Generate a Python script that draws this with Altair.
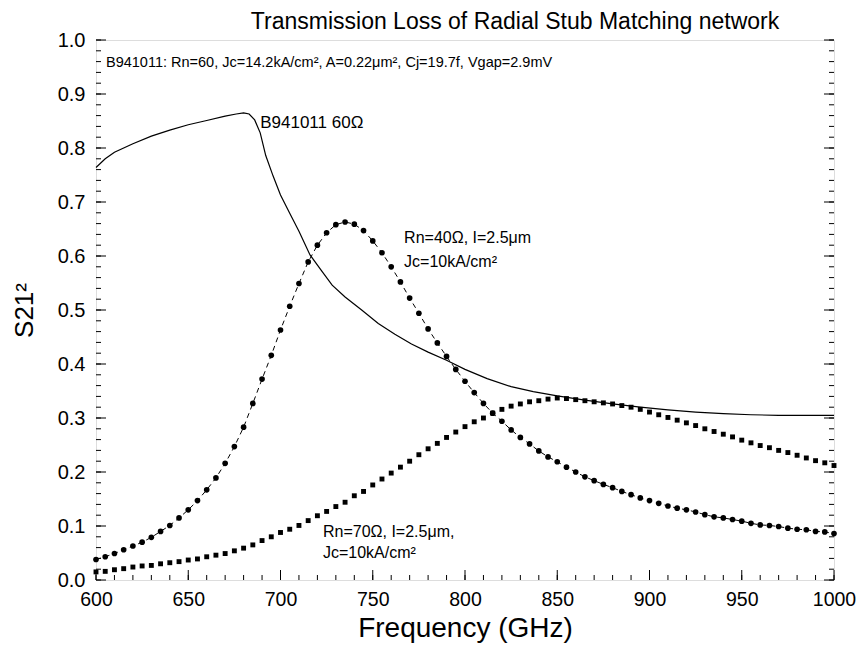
import altair as alt
import pandas as pd

# ---------------- data ----------------
# solid curve: B941011 60 ohm
line_freq = [600, 605, 610, 620, 630, 640, 650, 660, 670, 676, 680, 683, 686, 689,
             692, 696, 700, 705, 710, 716, 722, 728, 735, 744, 753, 762, 771, 780,
             790, 800, 812, 825, 837, 850, 865, 880, 895, 910, 925, 940, 955, 970,
             985, 1000]
line_s21 = [0.764, 0.780, 0.792, 0.808, 0.822, 0.833, 0.843, 0.851, 0.859, 0.863,
            0.865, 0.863, 0.852, 0.828, 0.786, 0.748, 0.713, 0.679, 0.646, 0.602,
            0.574, 0.546, 0.524, 0.500, 0.475, 0.455, 0.437, 0.422, 0.407, 0.390,
            0.373, 0.358, 0.349, 0.341, 0.333, 0.326, 0.320, 0.315, 0.311, 0.308,
            0.306, 0.305, 0.305, 0.305]

# sampled curves (every 5 GHz)
pts_freq = list(range(600, 1001, 5))
rn40_s21 = [0.038, 0.043, 0.049, 0.056, 0.063, 0.070, 0.079, 0.090, 0.101, 0.115,
            0.130, 0.147, 0.167, 0.189, 0.216, 0.247, 0.283, 0.327, 0.372, 0.416,
            0.463, 0.507, 0.549, 0.589, 0.620, 0.643, 0.658, 0.663, 0.659, 0.647,
            0.628, 0.606, 0.580, 0.552, 0.522, 0.494, 0.465, 0.439, 0.414, 0.390,
            0.368, 0.347, 0.327, 0.309, 0.294, 0.278, 0.264, 0.252, 0.239, 0.228,
            0.219, 0.209, 0.200, 0.191, 0.184, 0.177, 0.171, 0.164, 0.158, 0.152,
            0.147, 0.142, 0.137, 0.133, 0.130, 0.126, 0.121, 0.117, 0.115, 0.112,
            0.109, 0.105, 0.102, 0.101, 0.099, 0.096, 0.094, 0.093, 0.090, 0.089,
            0.086]
rn70_s21 = [0.015, 0.016, 0.019, 0.021, 0.024, 0.026, 0.027, 0.030, 0.032, 0.034,
            0.037, 0.039, 0.043, 0.046, 0.049, 0.054, 0.059, 0.065, 0.073, 0.080,
            0.088, 0.094, 0.101, 0.110, 0.119, 0.127, 0.136, 0.144, 0.156, 0.164,
            0.176, 0.187, 0.198, 0.209, 0.220, 0.232, 0.243, 0.253, 0.264, 0.274,
            0.284, 0.293, 0.300, 0.309, 0.316, 0.322, 0.326, 0.330, 0.332, 0.335,
            0.337, 0.336, 0.334, 0.332, 0.330, 0.328, 0.326, 0.323, 0.320, 0.316,
            0.311, 0.306, 0.301, 0.296, 0.291, 0.286, 0.280, 0.275, 0.270, 0.265,
            0.259, 0.254, 0.249, 0.245, 0.240, 0.236, 0.231, 0.226, 0.221, 0.217,
            0.212]

# annotations (anchor in data coordinates)
note_text = ["B941011: Rn=60, Jc=14.2kA/cm², A=0.22μm², Cj=19.7f, Vgap=2.9mV"]
note_x = [605.4]
note_y = [0.958]
name_text = ["B941011 60Ω"]
name_x = [689]
name_y = [0.846]
label_text = ["Rn=40Ω, I=2.5μm", "Jc=10kA/cm²", "Rn=70Ω, I=2.5μm,", "Jc=10kA/cm²"]
label_x = [767, 767, 723, 723]
label_y = [0.633, 0.589, 0.089, 0.050]

# axis ticks
x_major = [600, 650, 700, 750, 800, 850, 900, 950, 1000]
x_minor = list(range(600, 1001, 10))
y_major = [0.0, 0.1, 0.2, 0.3, 0.4, 0.5, 0.6, 0.7, 0.8, 0.9, 1.0]
y_minor = [round(i * 0.02, 2) for i in range(51)]

# ---------------- chart ----------------
W, H = 738, 540
FONT = "Liberation Sans"
xs = alt.Scale(domain=[600, 1000], nice=False, zero=False)
ys = alt.Scale(domain=[0, 1], nice=False, zero=False)

x_axis = alt.Axis(values=x_major, format="d", ticks=False, domain=False, grid=False,
                  labelFlush=False, labelOverlap=False,
                  labelFontSize=19.5, labelFont=FONT, labelColor="black", labelPadding=10,
                  title="Frequency (GHz)", titleFontSize=28, titleFont=FONT,
                  titleFontWeight="normal", titleColor="black", titlePadding=6)
y_axis = alt.Axis(values=y_major, format=".1f", ticks=False, domain=False, grid=False,
                  labelFlush=False, labelOverlap=False,
                  labelFontSize=20, labelFont=FONT, labelColor="black", labelPadding=11,
                  title="S21²", titleFontSize=26, titleFont=FONT,
                  titleFontWeight="normal", titleColor="black", titlePadding=20)

df_line = pd.DataFrame({"f": line_freq, "s": line_s21})
df_40 = pd.DataFrame({"f": pts_freq, "s": rn40_s21})
df_70 = pd.DataFrame({"f": pts_freq, "s": rn70_s21})

solid = alt.Chart(df_line).mark_line(color="black", strokeWidth=1.2).encode(
    x=alt.X("f:Q", scale=xs, axis=x_axis),
    y=alt.Y("s:Q", scale=ys, axis=y_axis),
)
dash40 = alt.Chart(df_40).mark_line(color="black", strokeWidth=1, strokeDash=[5, 4]).encode(
    x=alt.X("f:Q", scale=xs), y=alt.Y("s:Q", scale=ys))
dots40 = alt.Chart(df_40).mark_point(shape="circle", filled=True, color="black",
                                     size=32, opacity=1).encode(
    x=alt.X("f:Q", scale=xs), y=alt.Y("s:Q", scale=ys))
sq70 = alt.Chart(df_70).mark_point(shape="square", filled=True, color="black",
                                   size=24, opacity=1).encode(
    x=alt.X("f:Q", scale=xs), y=alt.Y("s:Q", scale=ys))

df_note = pd.DataFrame({"f": note_x, "s": note_y, "t": note_text})
note = alt.Chart(df_note).mark_text(align="left", baseline="middle", fontSize=14.5,
                                    font=FONT, color="black").encode(
    x=alt.X("f:Q", scale=xs), y=alt.Y("s:Q", scale=ys), text="t:N")
df_name = pd.DataFrame({"f": name_x, "s": name_y, "t": name_text})
name = alt.Chart(df_name).mark_text(align="left", baseline="middle", fontSize=17,
                                    font=FONT, color="black").encode(
    x=alt.X("f:Q", scale=xs), y=alt.Y("s:Q", scale=ys), text="t:N")
df_lab = pd.DataFrame({"f": label_x, "s": label_y, "t": label_text})
labels = alt.Chart(df_lab).mark_text(align="left", baseline="middle", fontSize=16,
                                     font=FONT, color="black").encode(
    x=alt.X("f:Q", scale=xs), y=alt.Y("s:Q", scale=ys), text="t:N")

# inward ticks
df_xmaj = pd.DataFrame({"f": x_major})
df_xmin = pd.DataFrame({"f": x_minor})
df_ymaj = pd.DataFrame({"s": y_major})
df_ymin = pd.DataFrame({"s": y_minor})
tk = dict(color="black", strokeWidth=1)
xt_min = alt.Chart(df_xmin).mark_rule(**tk).encode(
    x=alt.X("f:Q", scale=xs), y=alt.value(H), y2=alt.value(H - 5))
xt_maj = alt.Chart(df_xmaj).mark_rule(**tk).encode(
    x=alt.X("f:Q", scale=xs), y=alt.value(H), y2=alt.value(H - 10))
yl_min = alt.Chart(df_ymin).mark_rule(**tk).encode(
    y=alt.Y("s:Q", scale=ys), x=alt.value(0), x2=alt.value(5))
yl_maj = alt.Chart(df_ymaj).mark_rule(**tk).encode(
    y=alt.Y("s:Q", scale=ys), x=alt.value(0), x2=alt.value(10))
yr_min = alt.Chart(df_ymin).mark_rule(**tk).encode(
    y=alt.Y("s:Q", scale=ys), x=alt.value(W), x2=alt.value(W - 5))
yr_maj = alt.Chart(df_ymaj).mark_rule(**tk).encode(
    y=alt.Y("s:Q", scale=ys), x=alt.value(W), x2=alt.value(W - 10))

chart = alt.layer(
    solid, dash40, dots40, sq70, note, name, labels,
    xt_min, xt_maj, yl_min, yl_maj, yr_min, yr_maj,
).properties(
    width=W, height=H,
    title=alt.Title("Transmission Loss of Radial Stub Matching network",
                    fontSize=23, font=FONT, fontWeight="normal", color="black",
                    anchor="middle", dx=50, dy=4, offset=0),
    autosize=alt.AutoSizeParams(type="none"),
    padding={"left": 88, "top": 32, "right": 22, "bottom": 63},
).configure_view(
    stroke="black", strokeWidth=1.3
).configure(background="white")

chart.save("out.html", embed_options={"renderer": "svg", "actions": False})
